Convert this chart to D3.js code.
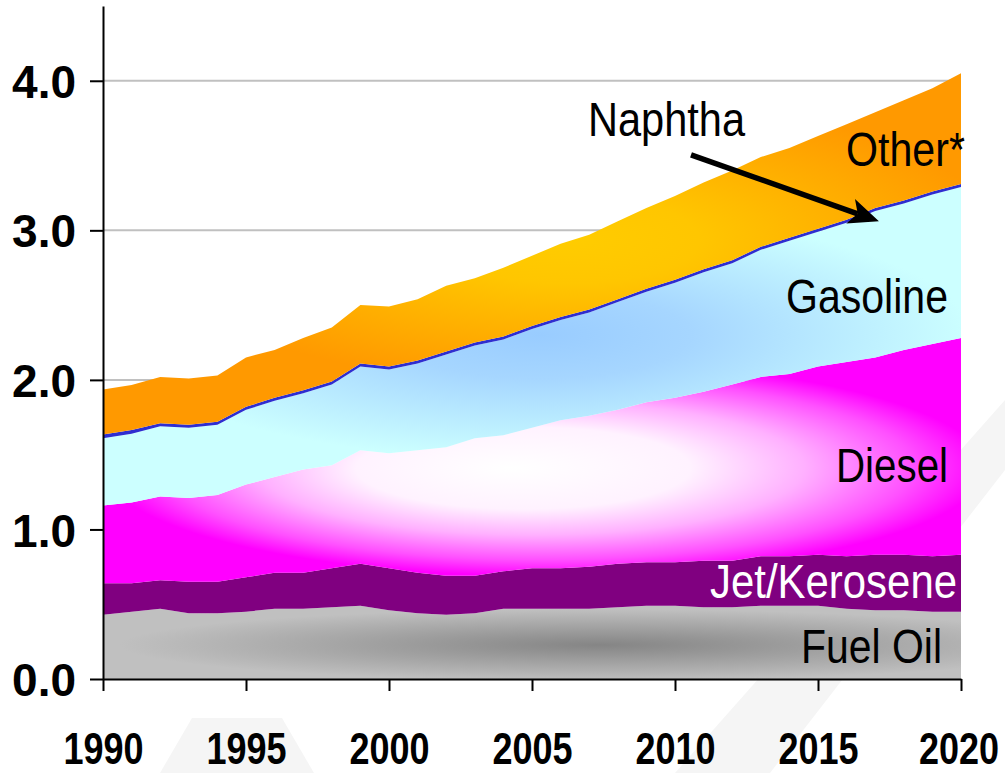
<!DOCTYPE html>
<html lang="en">
<head>
  <meta charset="UTF-8">
  <title>Product demand 1990-2020</title>
  <style>
    body { margin: 0; background: #fff; }
    svg { display: block; }
    .tick text { fill: #000; }
    .label { font-family: "Liberation Sans Narrow", "Arial Narrow", "Liberation Sans", Arial, sans-serif; font-size: 48px; }
  </style>
</head>
<body>
  <svg id="chart" width="1005" height="773"></svg>

  <script src="https://d3js.org/d3.v7.min.js"></script>
  <script>
    // Data
    const years = d3.range(1990, 2021);
    const fuelOil = [0.43, 0.45, 0.47, 0.44, 0.44, 0.45, 0.47, 0.47, 0.48, 0.49, 0.46,
                     0.44, 0.43, 0.44, 0.47, 0.47, 0.47, 0.47, 0.48, 0.49, 0.49,
                     0.48, 0.48, 0.49, 0.49, 0.49, 0.47, 0.46, 0.46, 0.45, 0.45];
    const jet = [0.21, 0.19, 0.19, 0.21, 0.21, 0.23, 0.24, 0.24, 0.26, 0.28, 0.28,
                 0.27, 0.26, 0.25, 0.25, 0.27, 0.27, 0.28, 0.29, 0.29, 0.29,
                 0.31, 0.31, 0.33, 0.33, 0.34, 0.35, 0.37, 0.37, 0.37, 0.38];
    const diesel = [0.52, 0.54, 0.56, 0.56, 0.58, 0.62, 0.64, 0.69, 0.69, 0.76, 0.77,
                    0.82, 0.86, 0.92, 0.91, 0.94, 0.99, 1.01, 1.03, 1.07, 1.10,
                    1.13, 1.18, 1.20, 1.22, 1.26, 1.30, 1.32, 1.37, 1.42, 1.45];
    const gasoline = [0.45, 0.46, 0.47, 0.47, 0.47, 0.50, 0.51, 0.51, 0.54, 0.56, 0.56,
                      0.58, 0.62, 0.62, 0.64, 0.66, 0.67, 0.69, 0.72, 0.74, 0.77,
                      0.80, 0.81, 0.85, 0.89, 0.90, 0.93, 0.98, 0.98, 1.00, 1.01];
    const naphtha = [0.025, 0.025, 0.02, 0.02, 0.02, 0.02, 0.02, 0.02, 0.02, 0.02, 0.02,
                     0.02, 0.02, 0.02, 0.02, 0.02, 0.02, 0.02, 0.02, 0.02, 0.02,
                     0.02, 0.02, 0.02, 0.02, 0.02, 0.02, 0.02, 0.02, 0.02, 0.02];
    const other = [0.30, 0.30, 0.31, 0.31, 0.31, 0.33, 0.32, 0.35, 0.36, 0.39, 0.40,
                   0.41, 0.44, 0.43, 0.46, 0.47, 0.49, 0.50, 0.52, 0.54, 0.56,
                   0.58, 0.60, 0.60, 0.60, 0.62, 0.64, 0.64, 0.67, 0.69, 0.74];
    const yTicks = [0, 1, 2, 3, 4];
    const xTicks = [1990, 1995, 2000, 2005, 2010, 2015, 2020];

    const keys = ['fuel', 'jet', 'diesel', 'gasoline', 'naphtha', 'other'];
    const rows = years.map((yr, i) => ({
      year: yr, fuel: fuelOil[i], jet: jet[i], diesel: diesel[i],
      gasoline: gasoline[i], naphtha: naphtha[i], other: other[i]
    }));

    const svg = d3.select('#chart');

    const x = d3.scaleLinear().domain([1990, 2020]).range([103, 961]);
    const y = d3.scaleLinear().domain([0, 4.5]).range([679, 6]);

    // faint background watermark shapes
    svg.append('polygon')
      .attr('points', '192,718 282,718 314,773 160,773')
      .attr('fill', '#f5f5f5');
    svg.append('polygon')
      .attr('points', '1005,400 1005,470 770,773 675,773')
      .attr('fill', '#f5f5f5');

    // gradients: ellipse centre/radii plus a focal x (bright/dark spot)
    const defs = svg.append('defs');
    function radial(id, cx, cy, rx, ry, focusX, stops) {
      const g = defs.append('radialGradient')
        .attr('id', id)
        .attr('gradientUnits', 'userSpaceOnUse')
        .attr('cx', 0).attr('cy', 0).attr('r', 1)
        .attr('fx', (focusX - cx) / rx).attr('fy', 0)
        .attr('gradientTransform', `translate(${cx},${cy}) scale(${rx},${ry})`);
      stops.forEach(s => g.append('stop').attr('offset', s[0]).attr('stop-color', s[1]));
    }
    radial('gFuel', 600, 645, 480, 36, 600, [[0, '#858585'], [1, '#c0c0c0']]);
    radial('gDiesel', 545, 468, 440, 108, 510,
      [[0, '#ffffff'], [0.38, '#fff2ff'], [0.62, '#ffb0ff'], [0.85, '#ff50ff'], [1, '#ff00ff']]);
    radial('gGas', 540, 335, 430, 125, 540, [[0, '#99ccff'], [0.35, '#a6d6ff'], [1, '#ccffff']]);
    radial('gOther', 570, 240, 430, 145, 570, [[0, '#ffcc00'], [0.3, '#ffc600'], [1, '#ff9900']]);

    const fills = {
      fuel: 'url(#gFuel)', jet: '#800080', diesel: 'url(#gDiesel)',
      gasoline: 'url(#gGas)', naphtha: '#2e2ed0', other: 'url(#gOther)'
    };

    // gridlines
    svg.append('g').selectAll('line')
      .data(yTicks.filter(d => d > 0))
      .enter().append('line')
      .attr('x1', x(1990)).attr('x2', x(2020))
      .attr('y1', d => y(d)).attr('y2', d => y(d))
      .attr('stroke', '#c0c0c0')
      .attr('stroke-width', 2);

    // stacked areas
    const series = d3.stack().keys(keys)(rows);
    const area = d3.area()
      .x(d => x(d.data.year))
      .y0(d => y(d[0]))
      .y1(d => y(d[1]));

    svg.append('g').selectAll('path')
      .data(series)
      .enter().append('path')
      .attr('d', area)
      .attr('fill', d => fills[d.key]);

    // axes
    const yAxis = d3.axisLeft(y)
      .tickValues(yTicks)
      .tickFormat(d3.format('.1f'))
      .tickSize(13)
      .tickSizeOuter(0)
      .tickPadding(14);
    const gy = svg.append('g')
      .attr('transform', `translate(${x(1990)},0)`)
      .call(yAxis);
    gy.selectAll('text')
      .attr('font-family', '"Liberation Sans", Arial, sans-serif')
      .attr('font-weight', 'bold')
      .attr('font-size', 46)
      .attr('dy', '0.36em');

    const xAxis = d3.axisBottom(x)
      .tickValues(xTicks)
      .tickFormat(d3.format('d'))
      .tickSize(12)
      .tickSizeOuter(0)
      .tickPadding(41);
    const gx = svg.append('g')
      .attr('transform', `translate(0,${y(0)})`)
      .call(xAxis);
    // condensed bold year labels: squeeze horizontally around each tick
    gx.selectAll('text')
      .attr('font-family', '"Liberation Sans", Arial, sans-serif')
      .attr('font-weight', 'bold')
      .attr('font-size', 45)
      .attr('transform', 'scale(0.8,1)')
      .attr('dx', d => d === 2020 ? -3 : 0);

    [gx, gy].forEach(g => {
      g.selectAll('path, line').attr('stroke', '#000').attr('stroke-width', 2);
    });

    // series labels
    const labels = [
      { text: 'Naphtha', x: 745, y: 136, w: 157, color: '#000' },
      { text: 'Other*', x: 965, y: 166, w: 119, color: '#000' },
      { text: 'Gasoline', x: 948, y: 313, w: 162, color: '#000' },
      { text: 'Diesel', x: 948, y: 482, w: 112, color: '#000' },
      { text: 'Jet/Kerosene', x: 957, y: 598, w: 247, color: '#fff' },
      { text: 'Fuel Oil', x: 942, y: 663, w: 141, color: '#000' }
    ];
    svg.append('g').selectAll('text')
      .data(labels)
      .enter().append('text')
      .attr('class', 'label')
      .attr('x', d => d.x)
      .attr('y', d => d.y)
      .attr('text-anchor', 'end')
      .attr('fill', d => d.color)
      .attr('textLength', d => d.w)
      .attr('lengthAdjust', 'spacingAndGlyphs')
      .text(d => d.text);

    // arrow pointing at the naphtha band
    const p0 = [x(2010.56), y(3.505)];
    const p1 = [x(2017.13), y(3.06)];
    const dx = p1[0] - p0[0], dy = p1[1] - p0[1];
    const len = Math.hypot(dx, dy);
    const ux = dx / len, uy = dy / len;
    const headLen = 30, headW = 13;
    const base = [p1[0] - ux * headLen, p1[1] - uy * headLen];
    const notch = [p1[0] - ux * headLen * 0.75, p1[1] - uy * headLen * 0.75];
    svg.append('line')
      .attr('x1', p0[0]).attr('y1', p0[1])
      .attr('x2', notch[0]).attr('y2', notch[1])
      .attr('stroke', '#000')
      .attr('stroke-width', 5.5);
    svg.append('polygon')
      .attr('points', [
        p1,
        [base[0] - uy * headW, base[1] + ux * headW],
        notch,
        [base[0] + uy * headW, base[1] - ux * headW]
      ].map(p => p.join(',')).join(' '))
      .attr('fill', '#000');
  </script>
</body>
</html>
